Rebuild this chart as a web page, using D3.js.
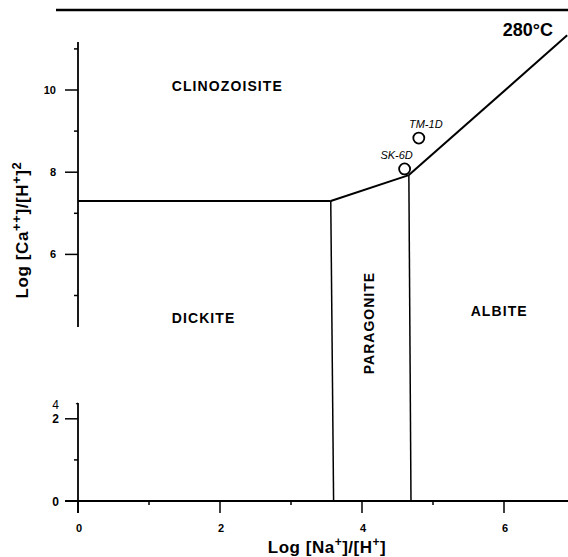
<!DOCTYPE html>
<html>
<head>
<meta charset="utf-8">
<script src="https://cdn.jsdelivr.net/npm/d3@7"></script>
<style>
  body { margin: 0; background: #fff; }
  text { font-family: "Liberation Sans", Arial, sans-serif; fill: #000; }
</style>
</head>
<body>
<script>
// canvas size
var w = 568;
var h = 557;

// tick values
var xMajorTicks = [0, 2, 4, 6];
var xMinorTicks = [1, 3, 5];
var yUpperTicks = [6, 8, 10];
var yUpperMinor = [5, 7, 9, 11];
var yLowerTicks = [0, 2];
var yLowerMinor = [1];

// phase boundaries, [log Na/H, log Ca/H2]
var clinoDickite = [[0, 7.3], [3.56, 7.3]];
var clinoParagonite = [[3.56, 7.3], [4.66, 7.93]];
var clinoAlbite = [[4.66, 7.93], [6.89, 11.33]];
var dickiteParagonite = [[3.56, 7.3], [3.6, 0]];
var paragoniteAlbite = [[4.66, 7.93], [4.69, 0]];

// field labels
var fieldNames = ["CLINOZOISITE", "DICKITE", "ALBITE"];
var fieldX = [1.32, 1.32, 5.53];
var fieldY = [9.97, 4.32, 4.5];

// samples
var sampleNames = ["TM-1D", "SK-6D"];
var sampleX = [4.8, 4.6];
var sampleY = [8.83, 8.08];

// scales
var xScale = d3.scaleLinear().domain([0, 6]).range([78, 504]);
var yScale = d3.scaleLinear().domain([0, 10]).range([501, 90]);

var svg = d3.select("body").append("svg").attr("width", w).attr("height", h);

var line = d3.line()
  .x(function (d) { return xScale(d[0]); })
  .y(function (d) { return yScale(d[1]); });

// top frame line
svg.append("line")
  .attr("x1", 56).attr("x2", w)
  .attr("y1", 10).attr("y2", 10)
  .attr("stroke", "#000").attr("stroke-width", 2.5);

// x axis
svg.append("line")
  .attr("x1", 65).attr("x2", w)
  .attr("y1", yScale(0)).attr("y2", yScale(0))
  .attr("stroke", "#000").attr("stroke-width", 1.8);

svg.selectAll(".xmaj")
  .data(xMajorTicks)
  .enter()
  .append("line")
  .attr("x1", function (d) { return xScale(d); })
  .attr("x2", function (d) { return xScale(d); })
  .attr("y1", yScale(0)).attr("y2", yScale(0) + 12)
  .attr("stroke", "#000").attr("stroke-width", 1.5);

svg.selectAll(".xmin")
  .data(xMinorTicks)
  .enter()
  .append("line")
  .attr("x1", function (d) { return xScale(d); })
  .attr("x2", function (d) { return xScale(d); })
  .attr("y1", yScale(0)).attr("y2", yScale(0) + 4)
  .attr("stroke", "#000").attr("stroke-width", 1.5);

svg.selectAll(".xlab")
  .data(xMajorTicks)
  .enter()
  .append("text")
  .attr("x", function (d) { return xScale(d) + 1; })
  .attr("y", yScale(0) + 31)
  .attr("text-anchor", "middle")
  .attr("font-size", "11px")
  .attr("font-weight", "bold")
  .text(function (d) { return d; });

// y axis, drawn in two pieces with a break
var ax = xScale(0);
svg.append("line")
  .attr("x1", ax).attr("x2", ax)
  .attr("y1", 42).attr("y2", 327)
  .attr("stroke", "#000").attr("stroke-width", 1.8);
svg.append("line")
  .attr("x1", ax).attr("x2", ax)
  .attr("y1", 403).attr("y2", 513)
  .attr("stroke", "#000").attr("stroke-width", 1.8);
svg.append("line")
  .attr("x1", ax - 2).attr("x2", ax)
  .attr("y1", 404).attr("y2", 403)
  .attr("stroke", "#000").attr("stroke-width", 1.2);

var yMajor = yUpperTicks.concat(yLowerTicks);
var yMinor = yUpperMinor.concat(yLowerMinor);

svg.selectAll(".ymaj")
  .data(yMajor)
  .enter()
  .append("line")
  .attr("x1", ax - 13).attr("x2", ax)
  .attr("y1", function (d) { return yScale(d); })
  .attr("y2", function (d) { return yScale(d); })
  .attr("stroke", "#000").attr("stroke-width", 1.5);

svg.selectAll(".ymin")
  .data(yMinor)
  .enter()
  .append("line")
  .attr("x1", ax - 4).attr("x2", ax)
  .attr("y1", function (d) { return yScale(d); })
  .attr("y2", function (d) { return yScale(d); })
  .attr("stroke", "#000").attr("stroke-width", 1.5);

svg.selectAll(".ylabu")
  .data(yUpperTicks)
  .enter()
  .append("text")
  .attr("x", ax - 22)
  .attr("y", function (d) { return yScale(d) + 4; })
  .attr("text-anchor", "end")
  .attr("font-size", "11px")
  .attr("font-weight", "bold")
  .text(function (d) { return d; });

svg.selectAll(".ylabl")
  .data(yLowerTicks)
  .enter()
  .append("text")
  .attr("x", ax - 19)
  .attr("y", function (d) { return yScale(d) + 4.5; })
  .attr("text-anchor", "end")
  .attr("font-size", "12px")
  .attr("font-family", "Liberation Serif, serif")
  .attr("font-weight", "bold")
  .text(function (d) { return d; });

// stray "4" left on the axis break
svg.append("text")
  .attr("x", ax - 19).attr("y", 409)
  .attr("text-anchor", "end")
  .attr("font-size", "12px")
  .attr("font-family", "Liberation Serif, serif")
  .text("4");

// phase boundaries
[clinoDickite, clinoParagonite, clinoAlbite].forEach(function (seg) {
  svg.append("path")
    .attr("d", line(seg))
    .attr("fill", "none")
    .attr("stroke", "#000")
    .attr("stroke-width", 2);
});
[dickiteParagonite, paragoniteAlbite].forEach(function (seg) {
  svg.append("path")
    .attr("d", line(seg))
    .attr("fill", "none")
    .attr("stroke", "#000")
    .attr("stroke-width", 1.5);
});

// field labels
svg.selectAll(".field")
  .data(fieldNames)
  .enter()
  .append("text")
  .attr("x", function (d, i) { return xScale(fieldX[i]); })
  .attr("y", function (d, i) { return yScale(fieldY[i]); })
  .attr("font-size", "14px")
  .attr("font-weight", "bold")
  .attr("letter-spacing", "1.1px")
  .text(function (d) { return d; });

svg.append("text")
  .attr("transform", "translate(" + (xScale(4.1) + 5) + "," + yScale(4.33) + ") rotate(-90)")
  .attr("text-anchor", "middle")
  .attr("font-size", "14px")
  .attr("font-weight", "bold")
  .attr("letter-spacing", "1px")
  .text("PARAGONITE");

svg.append("text")
  .attr("x", 553).attr("y", 36)
  .attr("text-anchor", "end")
  .attr("font-size", "18px")
  .attr("font-weight", "bold")
  .text("280°C");

// samples
svg.selectAll(".sample")
  .data(sampleNames)
  .enter()
  .append("circle")
  .attr("cx", function (d, i) { return xScale(sampleX[i]); })
  .attr("cy", function (d, i) { return yScale(sampleY[i]); })
  .attr("r", 5.5)
  .attr("fill", "#fff")
  .attr("stroke", "#000")
  .attr("stroke-width", 1.8);

svg.selectAll(".slab")
  .data(sampleNames)
  .enter()
  .append("text")
  .attr("x", function (d, i) { return xScale(sampleX[i]) + (i === 0 ? 7 : -8); })
  .attr("y", function (d, i) { return yScale(sampleY[i]) - 10; })
  .attr("text-anchor", "middle")
  .attr("font-size", "11px")
  .attr("font-style", "italic")
  .text(function (d) { return d; });

// axis titles
var xt = svg.append("text")
  .attr("x", 327).attr("y", 553)
  .attr("text-anchor", "middle")
  .attr("font-size", "17px")
  .attr("font-weight", "bold")
  .attr("letter-spacing", "0.5px");
xt.append("tspan").text("Log [Na");
xt.append("tspan").attr("baseline-shift", "super").attr("font-size", "12px").text("+");
xt.append("tspan").text("]/[H");
xt.append("tspan").attr("baseline-shift", "super").attr("font-size", "12px").text("+");
xt.append("tspan").text("]");

var yt = svg.append("text")
  .attr("transform", "translate(28,230) rotate(-90)")
  .attr("text-anchor", "middle")
  .attr("font-size", "17px")
  .attr("font-weight", "bold")
  .attr("letter-spacing", "0.6px");
yt.append("tspan").text("Log [Ca");
yt.append("tspan").attr("baseline-shift", "super").attr("font-size", "13px").text("++");
yt.append("tspan").text("]/[H");
yt.append("tspan").attr("baseline-shift", "super").attr("font-size", "13px").text("+");
yt.append("tspan").text("]");
yt.append("tspan").attr("baseline-shift", "super").attr("font-size", "13px").text("2");
</script>
</body>
</html>
